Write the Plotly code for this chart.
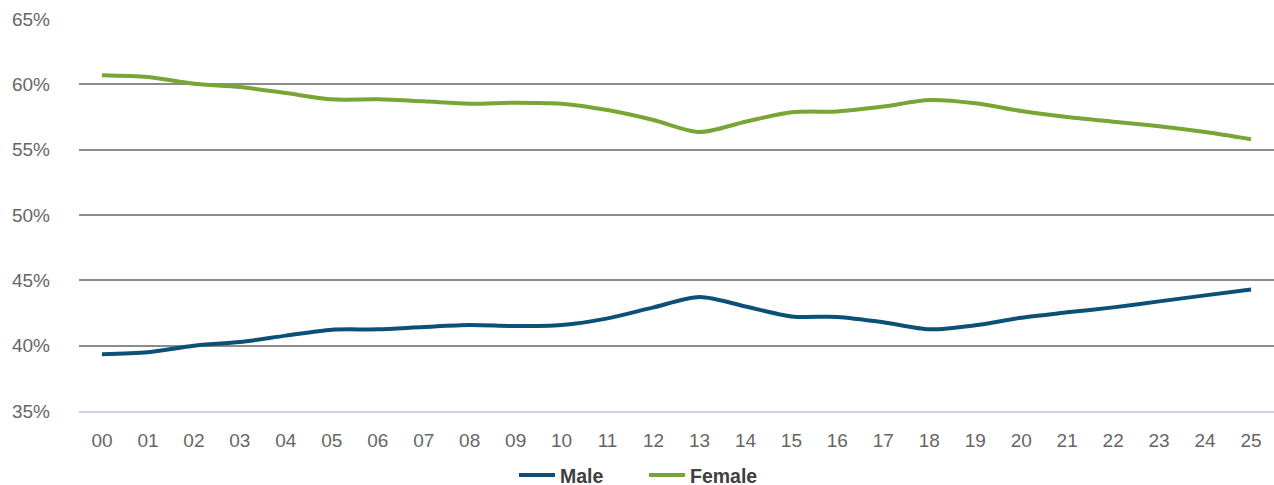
import plotly.graph_objects as go

years = ["00","01","02","03","04","05","06","07","08","09","10","11","12",
         "13","14","15","16","17","18","19","20","21","22","23","24","25"]
male = [39.35, 39.5, 40.0, 40.28, 40.77, 41.22, 41.25, 41.43, 41.58, 41.5, 41.58, 42.09,
        42.93, 43.72, 43.0, 42.24, 42.2, 41.79, 41.25, 41.56, 42.14, 42.55, 42.93,
        43.39, 43.85, 44.3]
female = [60.7, 60.56, 60.05, 59.8, 59.33, 58.85, 58.85, 58.7, 58.52, 58.6, 58.52, 58.03,
          57.27, 56.35, 57.14, 57.86, 57.93, 58.3, 58.8, 58.55, 57.96, 57.5, 57.14,
          56.8, 56.35, 55.8]
y_ticks = [35, 40, 45, 50, 55, 60, 65]
y_labels = ["35%", "40%", "45%", "50%", "55%", "60%", "65%"]

FONT = "Arial, Liberation Sans, sans-serif"

fig = go.Figure()
fig.add_trace(go.Scatter(x=years, y=male, name="Male", mode="lines",
                         line=dict(color="#0b5077", width=4, shape="spline", smoothing=0.8)))
fig.add_trace(go.Scatter(x=years, y=female, name="Female", mode="lines",
                         line=dict(color="#78a535", width=4, shape="spline", smoothing=0.8)))

fig.update_layout(
    width=1274, height=485,
    margin=dict(l=79, r=0, t=19, b=74),
    paper_bgcolor="white", plot_bgcolor="white",
    font=dict(family=FONT, size=19, color="#666666"),
    showlegend=True,
    legend=dict(orientation="h", x=514 / 1274, xanchor="left", xref="container",
                y=0.02, yanchor="middle", yref="container",
                font=dict(family=FONT, size=19.5, color="#404040", weight="bold"),
                itemwidth=36, entrywidth=79, entrywidthmode="pixels",
                traceorder="normal"),
)
fig.update_xaxes(type="category", range=[-0.5, 25.5], showgrid=False,
                 showline=True, linecolor="#c8d4e6", linewidth=2,
                 ticks="", ticklabelstandoff=11, zeroline=False,
                 tickfont=dict(family=FONT, size=19, color="#666666"))
fig.update_yaxes(range=[35, 65], tickmode="array", tickvals=y_ticks, ticktext=y_labels,
                 showgrid=True, gridcolor="#8c8c8c", gridwidth=2,
                 zeroline=False, showline=False, ticks="",
                 ticklabelstandoff=28,
                 tickfont=dict(family=FONT, size=19, color="#666666"))

fig.write_html("out.html", config={"displayModeBar": False},
               post_script=["document.body.style.margin='0';document.body.style.padding='0';"])
